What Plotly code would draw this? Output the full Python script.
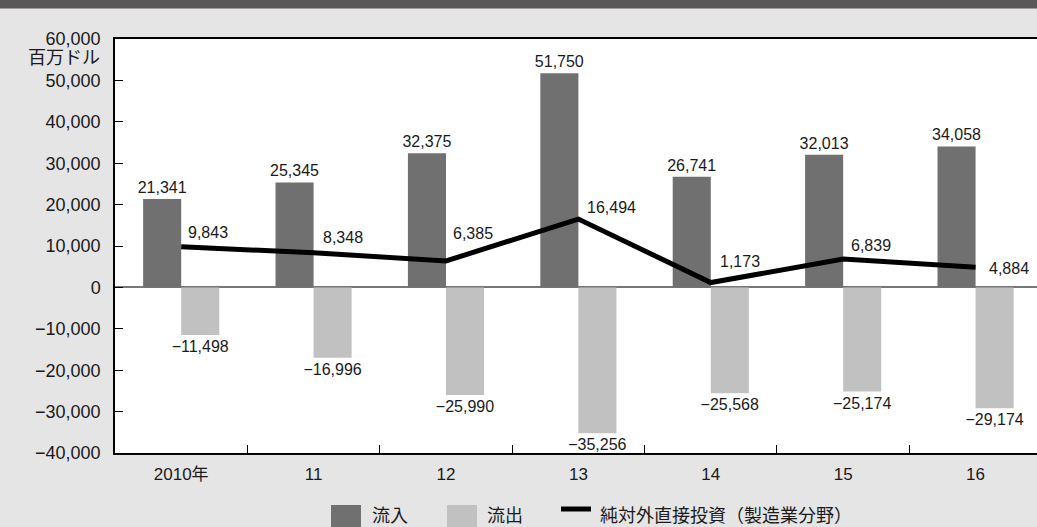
import plotly.graph_objects as go

# Years (categories) and values in million US dollars
years = ["2010年", "11", "12", "13", "14", "15", "16"]
inflow = [21341, 25345, 32375, 51750, 26741, 32013, 34058]
outflow = [-11498, -16996, -25990, -35256, -25568, -25174, -29174]
net_fdi = [9843, 8348, 6385, 16494, 1173, 6839, 4884]
y_ticks = [-40000, -30000, -20000, -10000, 0, 10000, 20000, 30000, 40000, 50000, 60000]

FONT = "Liberation Sans, Noto Sans CJK JP, sans-serif"
TXT = "#1a1a1a"
C_IN = "#707070"
C_OUT = "#c1c1c1"
BG = "#e5e5e5"

# pixel nudges for the net-FDI value labels so they clear the line
label_dx = [5, 7, 5, 7, 7, 6, 11]
label_dy = [3.5, 4.5, 17, 1.5, 11, 3.5, -1]


def fmt(v):
    return f"{v:,}".replace("-", "\u2212")


W, H = 1037, 527
ML, MR, MT, MB = 115, 0, 39, 74
PW, PH = W - ML - MR, H - MT - MB


def px(x):
    return (x - ML) / PW


def py(y):
    return (H - MB - y) / PH


fig = go.Figure()
fig.add_trace(go.Bar(
    x=years, y=inflow, name="流入", marker_color=C_IN, marker_line_width=0,
    text=[fmt(v) for v in inflow], textposition="outside", constraintext="none",
    textfont=dict(size=16, color=TXT, family=FONT), cliponaxis=False,
))
fig.add_trace(go.Bar(
    x=years, y=outflow, name="流出", marker_color=C_OUT, marker_line_width=0,
    text=[fmt(v) for v in outflow], textposition="outside", constraintext="none",
    textfont=dict(size=16, color=TXT, family=FONT), cliponaxis=False,
))
fig.add_trace(go.Scatter(
    x=years, y=net_fdi, mode="lines", name="純対外直接投資（製造業分野）",
    line=dict(color="#000000", width=5), cliponaxis=False,
))

annotations = []
for i, v in enumerate(net_fdi):
    last = i == len(net_fdi) - 1
    annotations.append(dict(
        x=i, y=v, xref="x", yref="y", text=fmt(v), showarrow=False,
        xanchor="left", yanchor="middle" if last else "bottom",
        xshift=label_dx[i], yshift=label_dy[i],
        font=dict(size=16, color=TXT, family=FONT),
    ))

# unit label under the top tick
annotations.append(dict(
    x=px(102), y=py(58), xref="paper", yref="paper", text="百万ドル",
    showarrow=False, xanchor="right", yanchor="middle",
    font=dict(size=18, color=TXT, family=FONT),
))

# legend drawn by hand (large swatches)
shapes = [
    dict(type="rect", xref="paper", yref="paper", x0=px(0), x1=px(W),
         y0=py(0), y1=py(8.5), fillcolor="#595757", line_width=0, layer="below"),
    dict(type="rect", xref="paper", yref="paper", x0=px(331), x1=px(361),
         y0=py(527), y1=py(505), fillcolor=C_IN, line_width=0),
    dict(type="rect", xref="paper", yref="paper", x0=px(447), x1=px(477),
         y0=py(527), y1=py(505), fillcolor=C_OUT, line_width=0),
    dict(type="line", xref="paper", yref="paper", x0=px(561), x1=px(591),
         y0=py(509), y1=py(509), line=dict(color="#000000", width=5)),
]
for x0, label in [(370, "流入"), (485, "流出"), (598, "純対外直接投資（製造業分野）")]:
    annotations.append(dict(
        x=px(x0), y=py(516), xref="paper", yref="paper", text=label,
        showarrow=False, xanchor="left", yanchor="middle",
        font=dict(size=18, color=TXT, family=FONT),
    ))

fig.update_layout(
    width=W, height=H,
    margin=dict(l=ML, r=MR, t=MT, b=MB, pad=0),
    paper_bgcolor=BG, plot_bgcolor="#ffffff",
    barmode="group", bargap=0.425, bargroupgap=0,
    showlegend=False,
    font=dict(family=FONT, color=TXT),
    annotations=annotations, shapes=shapes,
    xaxis=dict(
        type="category", range=[-0.5, 6.464], tickson="boundaries",
        ticks="inside", ticklen=8, tickcolor="#000000", tickwidth=1,
        showline=True, linecolor="#000000", linewidth=1.5, mirror=True,
        showgrid=False, tickfont=dict(size=17, color=TXT, family=FONT),
        ticklabelstandoff=5,
    ),
    yaxis=dict(
        range=[-40000, 60000], tickvals=y_ticks,
        ticktext=[fmt(v) for v in y_ticks],
        ticks="inside", ticklen=8, tickcolor="#000000", tickwidth=1,
        showline=True, linecolor="#000000", linewidth=1.5,
        showgrid=False, zeroline=True, zerolinecolor="#777777", zerolinewidth=2,
        tickfont=dict(size=18, color=TXT, family=FONT), ticklabelstandoff=9,
    ),
)

fig.write_html("out.html")
